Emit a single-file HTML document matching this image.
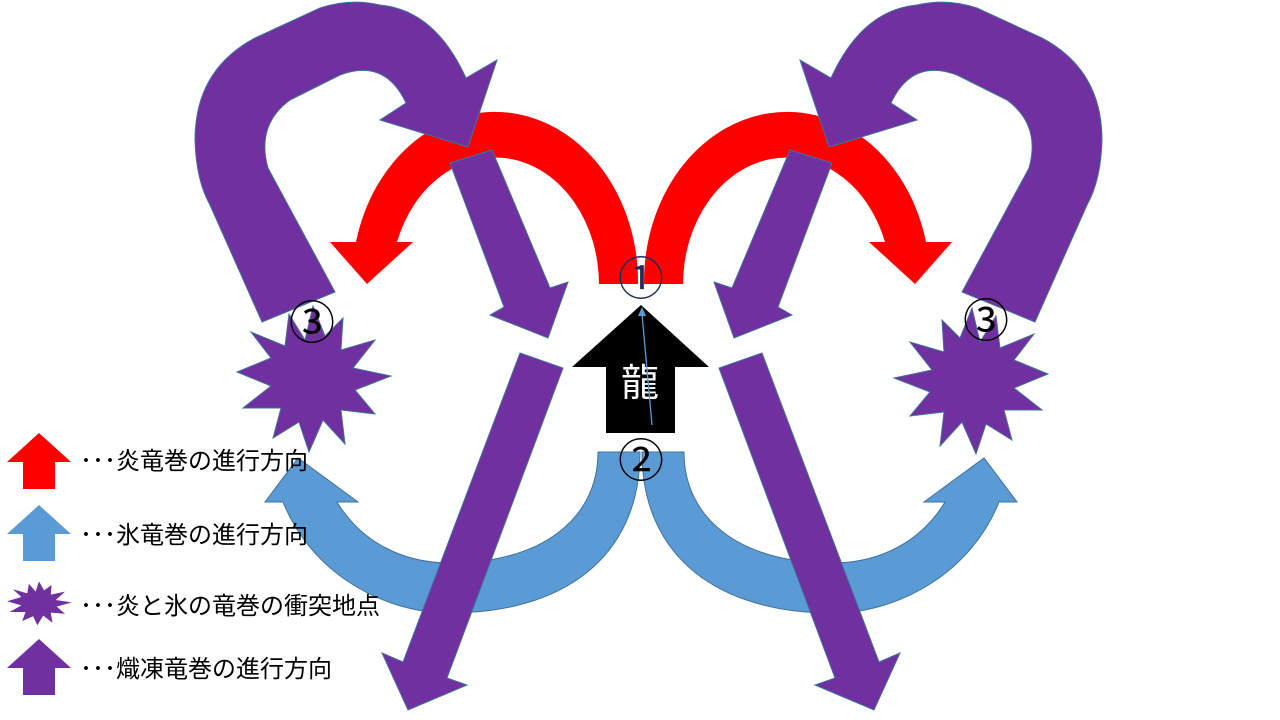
<!DOCTYPE html>
<html><head><meta charset="utf-8"><style>
html,body{margin:0;padding:0;background:#fff;}
svg{display:block;}
text{font-family:"Liberation Sans","Noto Sans CJK JP",sans-serif;}
</style></head><body>
<svg width="1280" height="720" viewBox="0 0 1280 720" xmlns="http://www.w3.org/2000/svg">
<defs>
<g id="red">
<path d="M638 284 A143 170 0 0 0 356 242 L330 242 L367 284 L413 242 L397 242 A104 127 0 0 1 599 284 Z" fill="#ff0000"/>
</g>
<g id="blue">
<path d="M640 452 C640 560 560 613 450 613 C380 613 310 570 283 502 L265 502 L298 458 L358 502 L337 502 C360 540 400 563 450 563 C540 563 598 520 598 452 Z" fill="#5b9bd5" stroke="#41719c" stroke-width="1"/>
</g>
<g id="hook">
<path d="M262 322 L335 292 L268 168 Q256 125 290 100 L340 75 Q385 58 406 103 L380 120 L468 147 L497 60 L466 78 Q435 10 380 5 Q350 -2 320 8 L255 38 Q195 70 195 140 Q196 180 210 205 Z" fill="#7030a0" stroke="#41719c" stroke-width="1"/>
</g>
<g id="straights">
<path d="M450 163 L492 150 L550 288 L568 282 L548 338 L490 315 L504 307 Z" fill="#7030a0" stroke="#41719c" stroke-width="1"/>
<path d="M520 353 L563 368 L447 678 L467 685 L408 710 L382 653 L403 662 Z" fill="#7030a0" stroke="#41719c" stroke-width="1"/>
</g>
<polygon id="star" points="0,-72 12,-42 30,-60 28,-28 62,-38 40,-10 78,-2 42,12 62,36 28,32 32,66 10,42 -4,74 -14,44 -40,60 -32,30 -70,30 -42,8 -76,-6 -42,-20 -62,-46 -28,-32 -24,-64 -8,-38" fill="#7030a0" stroke="#41719c" stroke-width="1"/>
<g id="up"><polygon points="-32,0 0,-29 32,0 16,0 16,27 -16,27 -16,0"/></g>
</defs>

<use href="#red"/>
<use href="#red" transform="translate(1282,0) scale(-1,1)"/>
<use href="#blue"/>
<use href="#blue" transform="translate(1282,0) scale(-1,1)"/>
<use href="#star" transform="translate(313,378)"/>
<use href="#star" transform="translate(972,380) scale(-1,1)"/>
<use href="#hook"/>
<use href="#hook" transform="translate(1297,0) scale(-1,1)"/>
<use href="#straights"/>
<use href="#straights" transform="translate(1282,0) scale(-1,1)"/>

<!-- black arrow -->
<polygon points="572,367 641,305 709,367 675,367 675,433 606,433 606,367" fill="#000"/>
<text x="640" y="396" font-size="38" fill="#fff" text-anchor="middle">龍</text>
<line x1="652" y1="425" x2="642" y2="314" stroke="#5b9bd5" stroke-width="1.3"/>
<polygon points="642,307 638,316 646,316" fill="#5b9bd5"/>

<!-- circled numbers -->
<text x="641" y="295" font-size="46" fill="#1f2d5a" text-anchor="middle">①</text>
<text x="641" y="477" font-size="46" fill="#000" text-anchor="middle">②</text>
<text x="312" y="339" font-size="46" fill="#000" text-anchor="middle">③</text>
<text x="986" y="337" font-size="46" fill="#000" text-anchor="middle">③</text>

<!-- legend -->
<use href="#up" transform="translate(39,462)" fill="#ff0000"/>
<use href="#up" transform="translate(39,534)" fill="#5b9bd5"/>
<polygon transform="translate(39,603) scale(0.42,0.3)" points="0,-72 12,-42 30,-60 28,-28 62,-38 40,-10 78,-2 42,12 62,36 28,32 32,66 10,42 -4,74 -14,44 -40,60 -32,30 -70,30 -42,8 -76,-6 -42,-20 -62,-46 -28,-32 -24,-64 -8,-38" fill="#7030a0"/>
<use href="#up" transform="translate(39,668)" fill="#7030a0"/>
<g font-size="24" fill="#000">
<text x="80" y="469">･･･炎竜巻の進行方向</text>
<text x="80" y="543">･･･氷竜巻の進行方向</text>
<text x="80" y="614">･･･炎と氷の竜巻の衝突地点</text>
<text x="80" y="677">･･･熾凍竜巻の進行方向</text>
</g>
</svg>
</body></html>
